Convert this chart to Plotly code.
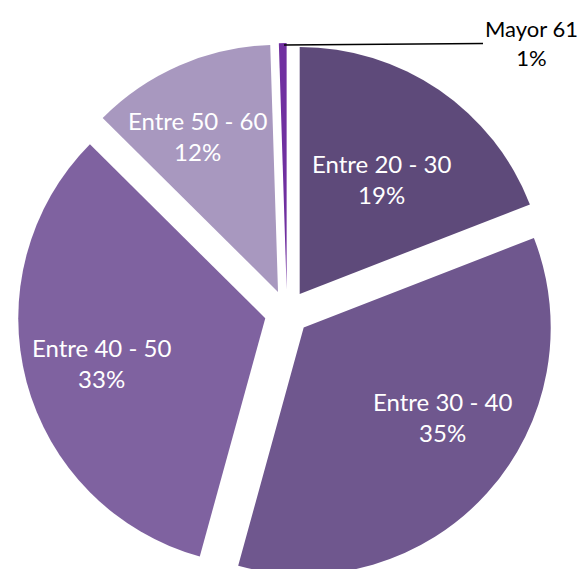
import plotly.graph_objects as go

categories = ["Entre 20 - 30", "Entre 30 - 40", "Entre 40 - 50", "Entre 50 - 60", "Mayor 61"]
values = [19, 35, 33, 12, 0.5]
percent_labels = ["19%", "35%", "33%", "12%", "1%"]
colors = ["#5e4a7a", "#6f578e", "#7f62a0", "#a898bf", "#7030a0"]
pulls = [0.091, 0.091, 0.091, 0.091, 0.091]

# label placement (page pixels, from top-left) - layout only
label_pos = [(381, 179), (442, 417), (102, 363), (197, 136)]
outside_tip = (284, 45)
outside_text = (531, 43)

W, H = 579, 600

fig = go.Figure(go.Pie(
    labels=categories,
    values=values,
    sort=False,
    direction="clockwise",
    rotation=0,
    pull=pulls,
    marker=dict(colors=colors, line=dict(width=0)),
    textinfo="none",
    hoverinfo="skip",
    domain=dict(x=[0.03022, 0.96114], y=[0.02083, 0.9375]),
    showlegend=False,
))

for cat, pct, (px, py) in zip(categories[:-1], percent_labels[:-1], label_pos):
    fig.add_annotation(
        text=f"{cat}<br>{pct}",
        x=px / W, y=1 - py / H, xref="paper", yref="paper",
        xanchor="center", yanchor="middle",
        showarrow=False, align="center",
        font=dict(family="Lato", size=24, color="white"),
    )

fig.add_annotation(
    text=f"{categories[-1]}<br>{percent_labels[-1]}",
    x=outside_tip[0] / W, y=1 - outside_tip[1] / H, xref="paper", yref="paper",
    ax=outside_text[0] - outside_tip[0], ay=outside_text[1] - outside_tip[1],
    axref="pixel", ayref="pixel",
    showarrow=True, arrowhead=0, arrowwidth=1.5, arrowcolor="black",
    font=dict(family="Lato", size=22, color="black"),
    align="center",
)

fig.update_layout(
    width=W, height=H,
    margin=dict(l=0, r=0, t=0, b=0),
    paper_bgcolor="white",
    plot_bgcolor="white",
)

fig.write_html(
    "out.html",
    config={"displayModeBar": False},
    post_script="document.body.style.margin='0';document.body.style.overflow='hidden';",
)
